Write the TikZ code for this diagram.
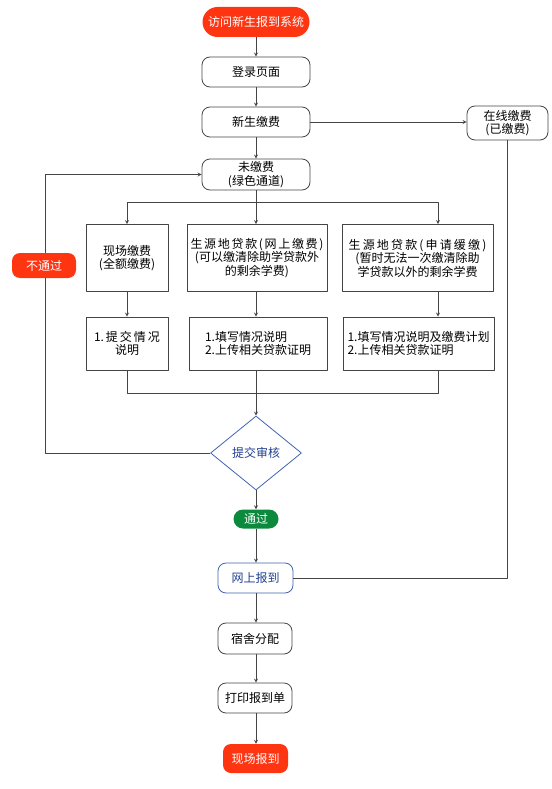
\documentclass[tikz,border=0pt]{standalone}
\usepackage{fontspec}
\setmainfont{Noto Sans CJK SC}
\usetikzlibrary{arrows,shapes.geometric,calc}
\definecolor{hongse}{HTML}{FF3512}
\definecolor{lvse}{HTML}{0B8A3E}
\definecolor{lanse}{HTML}{4263AE}
\definecolor{chulan}{HTML}{23408E}
\definecolor{xian}{HTML}{444444}
\newcommand{\gian}[2]{{\addfontfeatures{LetterSpace=#1}#2}}

\begin{document}
\begin{tikzpicture}[x=1pt, y=-1pt, font=\fontsize{12}{13.5}\selectfont, line join=round, >=stealth,
	kuang/.style={draw=xian, line width=0.8pt, rounded corners=8pt, minimum width=108pt, minimum height=30pt, align=center, inner sep=1pt},
	hop/.style={draw=xian, line width=0.8pt, minimum height=67pt, align=center, inner sep=1pt},
	ghichu/.style={draw=xian, line width=0.8pt, minimum height=53pt, inner sep=1pt},
	nhan/.style={fill=#1, text=white, align=center, inner sep=1pt},
	noi/.style={draw=xian, line width=0.8pt}]
	\useasboundingbox (0,0) rectangle (551,789);
	% cot chinh
	\node[nhan=hongse, rounded corners=15pt, minimum width=107pt, minimum height=30pt] (batdau) at (256,22) {访问新生报到系统};
	\node[kuang] (dangnhap) at (256,72) {登录页面};
	\node[kuang] (jiaofei) at (256,122) {新生缴费};
	\node[kuang, minimum height=31pt] (chuanop) at (256,174.5) {未缴费\\(绿色通道)};
	\node[kuang, minimum width=81pt, minimum height=34pt] (daxong) at (507.5,123) {在线缴费\\(已缴费)};
	% ba cach nop
	\node[hop, minimum width=140pt] (hop2) at (257,258) {\gian{14}{生源地贷款(网上缴费)}\\(可以缴清除助学贷款外\\的剩余学费)};
	\node[hop, minimum width=82pt] (hop1) at (127,258) {现场缴费\\(全额缴费)};
	\node[hop, minimum width=151pt] (hop3) at (417.5,258) {\gian{18}{生源地贷款(申请缓缴)}\\(暂时无法一次缴清除助\\学贷款以外的剩余学费};
	\node[ghichu, minimum width=82pt, align=center] (chu1) at (127,343.5) {1.\,提\,交\,情\,况\\说明};
	\node[ghichu, minimum width=138pt, align=left] (chu2) at (258,343.5) {1.填写情况说明\\2.上传相关贷款证明};
	\node[ghichu, minimum width=151pt, align=left] (chu3) at (418.5,343.5) {1.填写情况说明及缴费计划\\2.上传相关贷款证明};
	% tham dinh
	\node[diamond, draw=lanse, line width=0.8pt, text=chulan, minimum width=91pt, minimum height=74pt, inner sep=0pt, aspect=1.23] (thamdinh) at (256,453) {提交审核};
	\node[nhan=lvse, rounded corners=9.5pt, minimum width=45pt, minimum height=19pt] (dat) at (256,519) {通过};
	\node[kuang, draw=lanse, text=chulan, minimum width=75pt] (dangky) at (255.5,578) {网上报到};
	\node[kuang, minimum width=74pt, minimum height=31pt] (kytuc) at (255,638.5) {宿舍分配};
	\node[kuang, minimum width=74pt] (inphieu) at (255,698) {打印报到单};
	\node[nhan=hongse, rounded corners=8pt, minimum width=65pt, minimum height=29pt] (ketthuc) at (255.5,758.5) {现场报到};
	% mui ten
	\draw[noi,->] (batdau) -- (dangnhap);
	\draw[noi,->] (dangnhap) -- (jiaofei);
	\draw[noi,->] (jiaofei) -- (chuanop);
	\draw[noi,->] (jiaofei.east) -- (jiaofei.east -| daxong.west);
	\draw[noi] (daxong.south) |- (dangky.east);
	\coordinate (re) at (256,202);
	\coordinate (re3) at (438,202);
	\draw[noi] (chuanop.south -| re) -- (re);
	\draw[noi,->] (re) -| (hop1.north);
	\draw[noi,->] (re) -- (re |- hop2.north);
	\draw[noi,->] (re) -- (re3) -- (re3 |- hop3.north);
	\draw[noi,->] (hop1) -- (chu1);
	\draw[noi,->] (re |- hop2.south) -- (re |- chu2.north);
	\draw[noi,->] (re3 |- hop3.south) -- (re3 |- chu3.north);
	\coordinate (gop) at (256,393);
	\coordinate (gop3) at (438,393);
	\draw[noi] (chu1.south) |- (gop3) -- (re3 |- chu3.south);
	\draw[noi] (re |- chu2.south) -- (gop);
	\draw[noi,->] (gop) -- (thamdinh.north);
	\draw[noi,->] (thamdinh.west) -| (45,174.5) -- (chuanop.west);
	\node[nhan=hongse, rounded corners=8pt, minimum width=64pt, minimum height=25pt] (khongdat) at (44,265.5) {不通过};
	\draw[noi,->] (thamdinh.south) -- (dat.north);
	\draw[noi,->] (dat.south) -- (dat.south |- dangky.north);
	\draw[noi,->] (dangky.south -| dat) -- (dat |- kytuc.north);
	\draw[noi,->] (dat |- kytuc.south) -- (dat |- inphieu.north);
	\draw[noi,->] (dat |- inphieu.south) -- (dat |- ketthuc.north);
\end{tikzpicture}
\end{document}
